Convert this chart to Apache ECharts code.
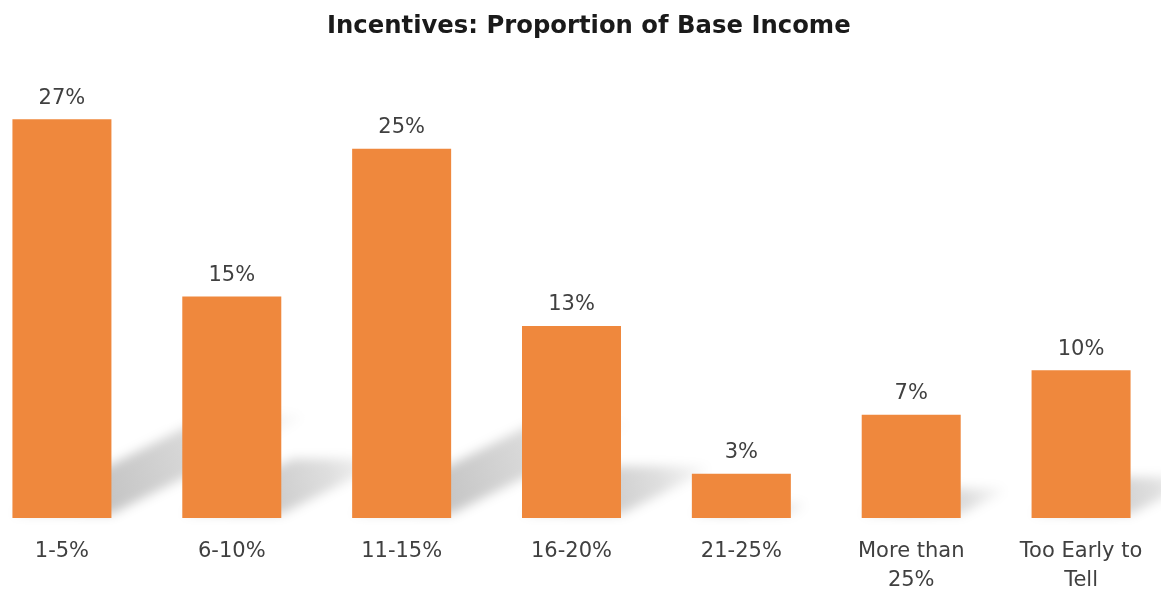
<!DOCTYPE html>
<html>
<head>
<meta charset="utf-8">
<style>
  html, body { margin: 0; padding: 0; background: #ffffff; overflow: hidden; width: 1161px; height: 595px; }
  /* plot spans slightly wider than the page so the outer bars sit near the edges */
  #chart { position: absolute; left: -23px; top: 0; width: 1189px; height: 595px; }
</style>
<script src="https://cdn.jsdelivr.net/npm/echarts@6/dist/echarts.min.js"></script>
</head>
<body>
<div id="chart"></div>
<script>
// Share of base income paid out as incentives
const categories = ['1-5%', '6-10%', '11-15%', '16-20%', '21-25%', 'More than\n25%', 'Too Early to\nTell'];
const shares = [27, 15, 25, 13, 3, 7, 10];

const BAR_WIDTH = 99;
const BAR_COLOR = '#EF883D';
const FONT = 'DejaVu Sans';
const FAR = 4000; // shape is drawn off-canvas, only its blurred shadow lands on the plot

const chart = echarts.init(document.getElementById('chart'));

// Soft floor shadow cast back and to the right of each bar
function renderShadow(params, api) {
  const idx = api.value(0);
  const val = api.value(1);
  const base = api.coord([idx, 0]);
  const top = api.coord([idx, val]);
  const h = base[1] - top[1];
  const x0 = base[0] - BAR_WIDTH / 2 - FAR;
  const x1 = base[0] + BAR_WIDTH / 2 - FAR;
  const y = base[1] - 4;
  const lx = h * 0.5;
  const ly = lx * 0.5;
  return {
    type: 'polygon',
    shape: {
      points: [[x0, y], [x1, y], [x1 + lx, y - ly], [x0 + lx, y - ly]]
    },
    style: {
      fill: new echarts.graphic.LinearGradient(0, 1, 1, 0, [
        { offset: 0, color: 'rgba(0,0,0,0.45)' },
        { offset: 0.3, color: 'rgba(0,0,0,0.9)' },
        { offset: 0.7, color: 'rgba(0,0,0,0.5)' },
        { offset: 1, color: 'rgba(0,0,0,0)' }
      ]),
      shadowBlur: 11,
      shadowOffsetX: FAR,
      shadowOffsetY: 0,
      shadowColor: 'rgba(150,150,150,0.62)'
    },
    silent: true
  };
}

chart.setOption({
  animation: false,
  backgroundColor: '#ffffff',
  title: {
    text: 'Incentives: Proportion of Base Income',
    left: 345,
    top: 10,
    textStyle: {
      fontFamily: FONT,
      fontSize: 24.3,
      fontWeight: 'bold',
      color: '#1a1a1a'
    }
  },
  grid: {
    left: 0,
    right: 0,
    top: 75,
    bottom: 72,
    containLabel: false
  },
  xAxis: {
    type: 'category',
    data: categories,
    axisLine: { show: false },
    axisTick: { show: false },
    axisLabel: {
      interval: 0,
      margin: 19,
      fontFamily: FONT,
      fontSize: 21,
      lineHeight: 29,
      color: '#404040'
    }
  },
  yAxis: {
    type: 'value',
    min: 0,
    max: 30,
    show: false,
    splitLine: { show: false }
  },
  series: [
    {
      type: 'custom',
      renderItem: renderShadow,
      data: shares.map((v, i) => [i, v]),
      z: 1,
      silent: true
    },
    {
      type: 'bar',
      data: shares,
      barWidth: BAR_WIDTH,
      z: 2,
      itemStyle: { color: BAR_COLOR },
      label: {
        show: true,
        position: 'top',
        distance: 10,
        formatter: '{c}%',
        fontFamily: FONT,
        fontSize: 21,
        lineHeight: 22,
        color: '#404040'
      }
    }
  ]
});
</script>
</body>
</html>
